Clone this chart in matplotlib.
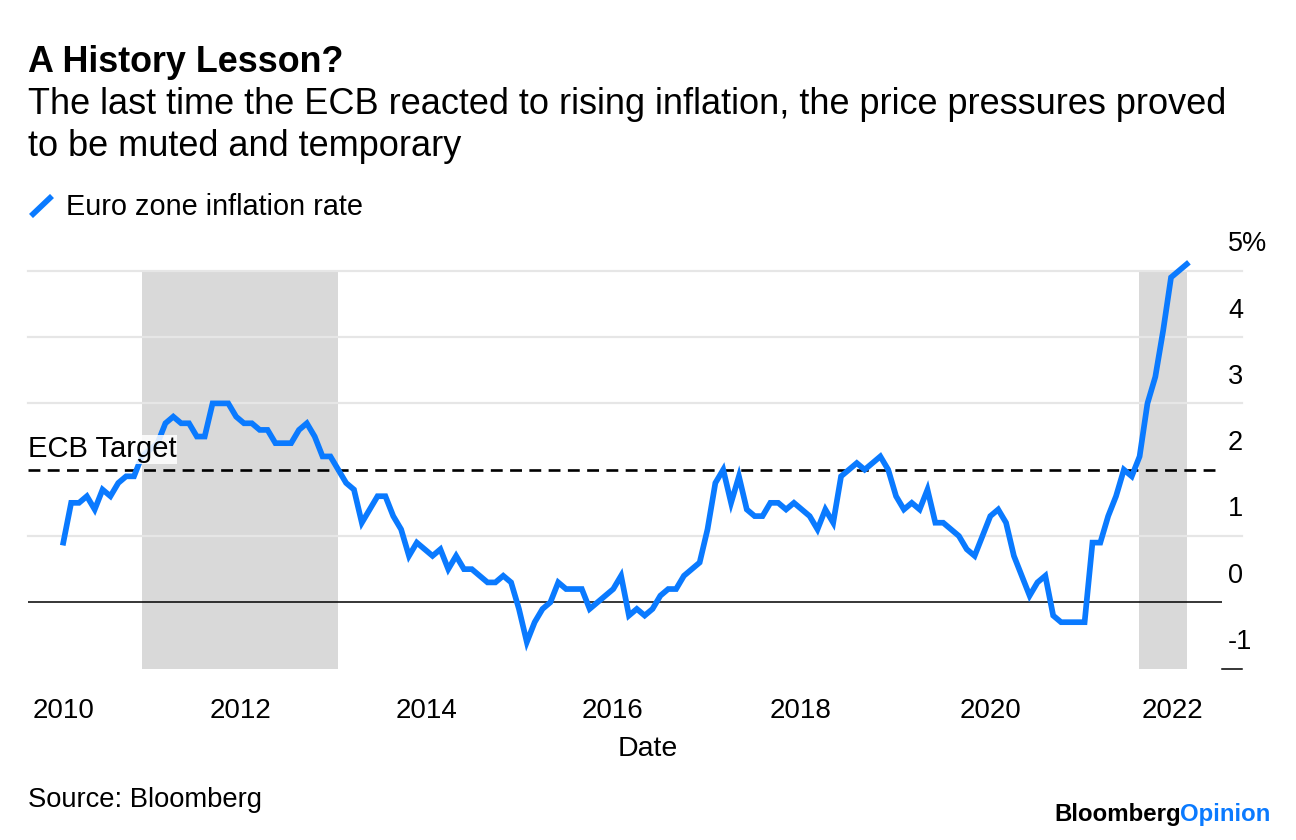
import numpy as np
import pandas as pd
import matplotlib
matplotlib.use("Agg")
import matplotlib.pyplot as plt
from matplotlib.lines import Line2D

plt.rcParams['font.family'] = ['Liberation Sans', 'DejaVu Sans']

# monthly euro zone inflation, Feb 2010 .. Jan 2022 (%)
inflation = [
    0.9, 1.5, 1.5, 1.6, 1.4, 1.7, 1.6, 1.8, 1.9, 1.9, 2.2,                 # 2010
    2.3, 2.4, 2.7, 2.8, 2.7, 2.7, 2.5, 2.5, 3.0, 3.0, 3.0, 2.8,            # 2011
    2.7, 2.7, 2.6, 2.6, 2.4, 2.4, 2.4, 2.6, 2.7, 2.5, 2.2, 2.2,            # 2012
    2.0, 1.8, 1.7, 1.2, 1.4, 1.6, 1.6, 1.3, 1.1, 0.7, 0.9, 0.8,            # 2013
    0.7, 0.8, 0.5, 0.7, 0.5, 0.5, 0.4, 0.3, 0.3, 0.4, 0.3, -0.1,           # 2014
    -0.6, -0.3, -0.1, 0.0, 0.3, 0.2, 0.2, 0.2, -0.1, 0.0, 0.1, 0.2,        # 2015
    0.4, -0.2, -0.1, -0.2, -0.1, 0.1, 0.2, 0.2, 0.4, 0.5, 0.6, 1.1,        # 2016
    1.8, 2.0, 1.5, 1.9, 1.4, 1.3, 1.3, 1.5, 1.5, 1.4, 1.5, 1.4,            # 2017
    1.3, 1.1, 1.4, 1.2, 1.9, 2.0, 2.1, 2.0, 2.1, 2.2, 2.0, 1.6,            # 2018
    1.4, 1.5, 1.4, 1.7, 1.2, 1.2, 1.1, 1.0, 0.8, 0.7, 1.0, 1.3,            # 2019
    1.4, 1.2, 0.7, 0.4, 0.1, 0.3, 0.4, -0.2, -0.3, -0.3, -0.3, -0.3,       # 2020
    0.9, 0.9, 1.3, 1.6, 2.0, 1.9, 2.2, 3.0, 3.4, 4.1, 4.9, 5.0,            # 2021
    5.1,                                                                   # 2022
]
dates = pd.date_range("2010-02-01", "2022-01-01", freq="MS")
x = dates.year + (dates.month - 1) / 12.0

# ECB tightening periods (shaded)
shade_start = [2010.92, 2021.49]
shade_end = [2013.0, 2022.0]

ecb_target = 2.0
ytick_vals = [-1, 0, 1, 2, 3, 4, 5]
ytick_text = ["-1", "0", "1", "2", "3", "4", "5%"]
xtick_text = ["2010", "2012", "2014", "2016", "2018", "2020", "2022"]
xtick_pos = [2010.09, 2011.96, 2013.94, 2015.91, 2017.90, 2019.92, 2021.85]

blue = "#0a7aff"
W, H = 1296, 840

fig = plt.figure(figsize=(W / 100, H / 100), dpi=100)
ax = fig.add_axes([28 / W, (H - 668.6) / H, (1222 - 28) / W, (668.6 - 254.2) / H])
ax.set_xlim(2009.709, 2022.374)
ax.set_ylim(-1, 5.25)
for s in ax.spines.values():
    s.set_visible(False)
ax.set_yticks([])
ax.tick_params(axis="x", length=0, pad=21.5, labelsize=20)
ax.set_xticks(xtick_pos)
ax.set_xticklabels(xtick_text)

for a, b in zip(shade_start, shade_end):
    ax.fill_between([a, b], -1, 5, color="#d9d9d9", lw=0, zorder=0)

xr = (1242 - 28) / (1222 - 28)
for v in ytick_vals[2:]:
    if v == ecb_target:
        continue
    ax.axhline(v, 0, xr, color="#e6e6e6", lw=1.6, clip_on=False, zorder=1)
ax.axhline(0, 0, 1, color="black", lw=1.1, zorder=2)
ax.axhline(-1, 1.0, xr, color="black", lw=1.1, clip_on=False, zorder=2)
ax.axhline(ecb_target, 0, 1, color="black", lw=1.9, ls=(0, (4.5, 2.8)), zorder=2)

for v, t in zip(ytick_vals, ytick_text):
    ax.text(1.005, v + 0.4, t, transform=ax.get_yaxis_transform(), ha="left",
            va="center", fontsize=19.5, clip_on=False)

ax.plot(x, inflation, color=blue, lw=4.1, solid_joinstyle="miter", zorder=3, clip_on=False)

ax.text(2009.709, 2.31, "ECB Target", fontsize=21, ha="left", va="center", zorder=4,
        bbox=dict(facecolor="white", edgecolor="none", pad=0.5, alpha=0.85))

fig.text(28 / W, 1 - 62 / H, "A History Lesson?", fontsize=25.8, fontweight="bold",
         ha="left", va="center")
fig.text(28 / W, 1 - 105 / H, "The last time the ECB reacted to rising inflation, the price pressures proved",
         fontsize=26, ha="left", va="center")
fig.text(28 / W, 1 - 147 / H, "to be muted and temporary", fontsize=26, ha="left", va="center")

fig.add_artist(Line2D([31 / W, 52 / W], [1 - 216 / H, 1 - 196 / H], color=blue, lw=4.1,
                      solid_capstyle="butt"))
fig.text(66 / W, 1 - 207 / H, "Euro zone inflation rate", fontsize=20.8, ha="left", va="center")

fig.text(648 / W, 1 - 749 / H, "Date", fontsize=20.5, ha="center", va="center")
fig.text(28 / W, 1 - 800 / H, "Source: Bloomberg", fontsize=19.7, ha="left", va="center")
fig.text(1181 / W, 1 - 814 / H, "Bloomberg", fontsize=17.3, fontweight="bold", ha="right",
         va="center", color="black")
fig.text(1180 / W, 1 - 814 / H, "Opinion", fontsize=17.3, fontweight="bold", ha="left",
         va="center", color=blue)

fig.savefig("out.png", dpi=100)
